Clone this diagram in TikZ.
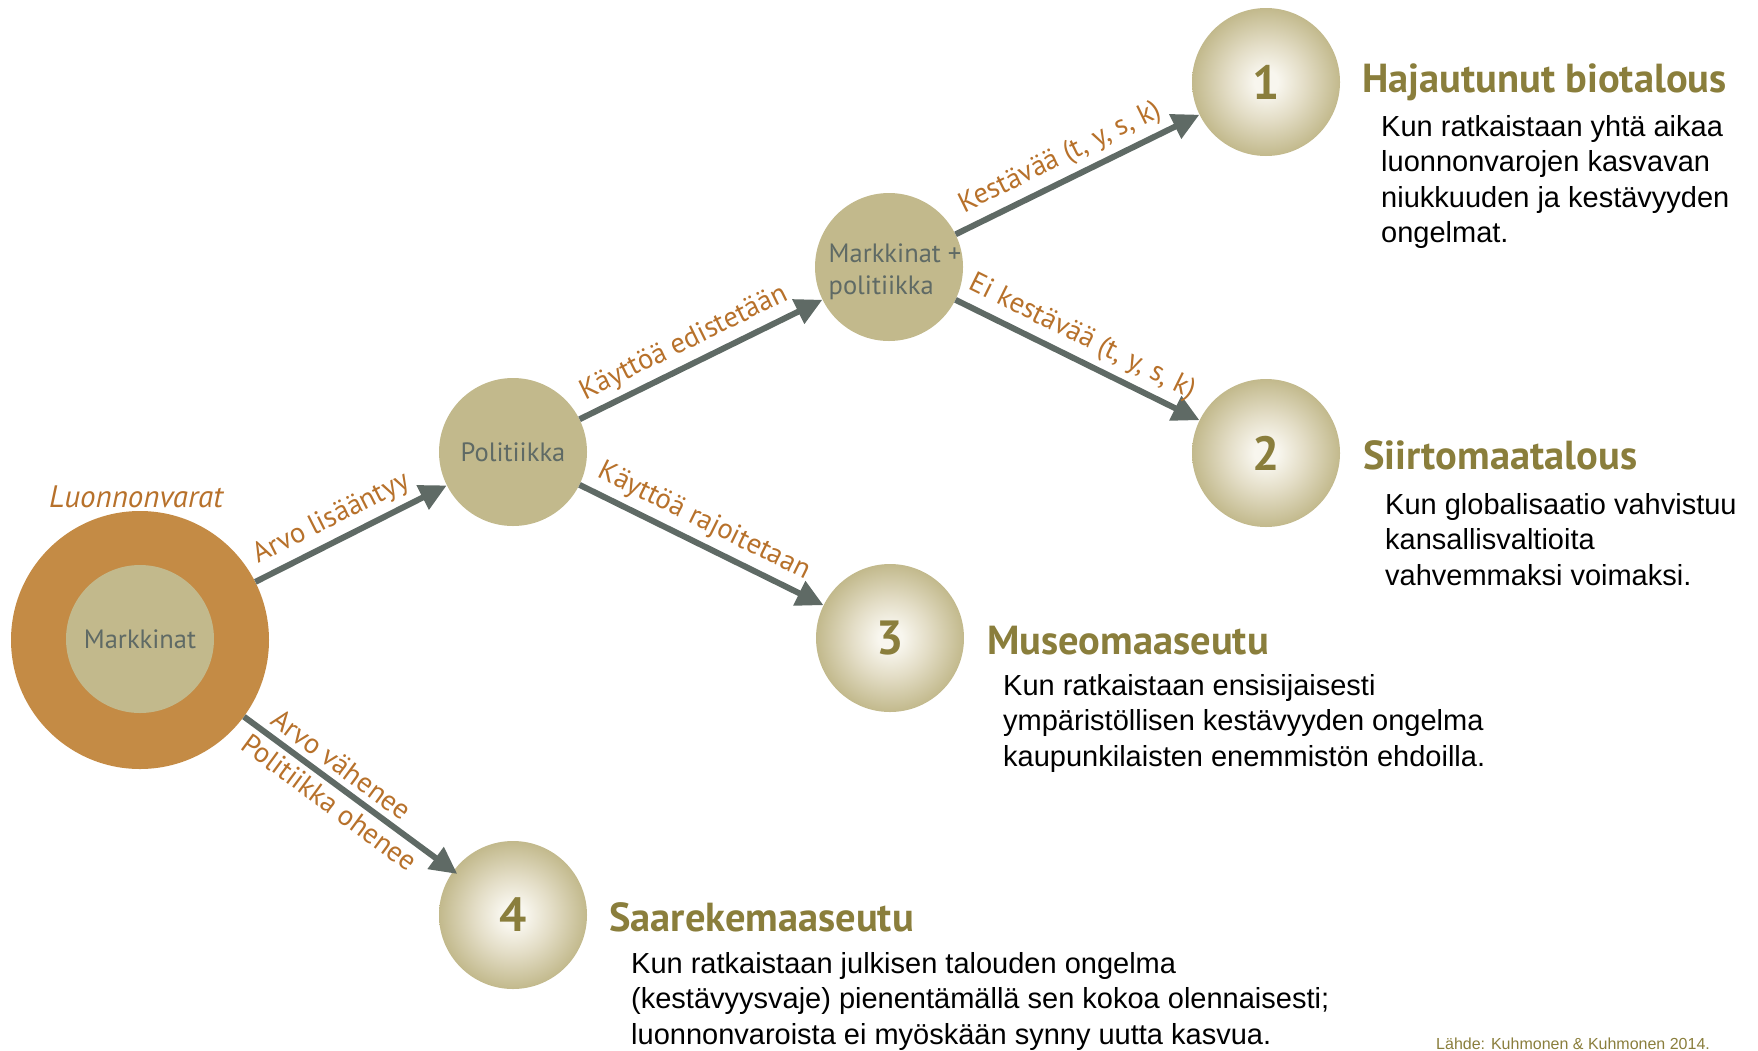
\documentclass[tikz,border=0pt]{standalone}
\usepackage{fontspec}
\setmainfont{Liberation Sans}
\newfontfamily\myr{PT Sans}
\usetikzlibrary{arrows.meta}
\definecolor{ring}{HTML}{C48B45}
\definecolor{khaki}{HTML}{C2B98C}
\definecolor{slate}{HTML}{5F6A65}
\definecolor{ochre}{HTML}{B7712B}
\definecolor{olive}{HTML}{8A7E3C}
\definecolor{ballc}{HTML}{F8F6EE}
\definecolor{ballm}{HTML}{E3DDC6}
\pgfdeclareradialshading{ball}{\pgfpoint{0bp}{0bp}}{color(0bp)=(ballc); color(4bp)=(ballc); color(13bp)=(ballm); color(25bp)=(khaki); color(50bp)=(khaki)}
\begin{document}
\begin{tikzpicture}[x=1pt,y=-1pt,
  plainc/.style={circle, fill=khaki, minimum size=148pt, inner sep=0pt,
    font=\myr\fontsize{26.5}{32.5}\selectfont, text=slate, align=left},
  ballc/.style={circle, shading=ball, minimum size=148pt, inner sep=0pt,
    font=\myr\bfseries\fontsize{48}{50}\selectfont, text=olive},
  arr/.style={draw=slate, line width=6pt, -{Triangle[length=27pt,width=26pt]}},
  lab/.style={sloped, font=\myr\fontsize{28.5}{32}\selectfont, text=ochre, inner sep=6pt},
  head/.style={anchor=base west, font=\myr\bfseries\fontsize{40.5}{44}\selectfont, text=olive, inner sep=0pt},
  desc/.style={anchor=base west, font=\fontsize{29}{35.5}\selectfont, text=black, align=left, inner sep=0pt}]
\useasboundingbox (0,0) rectangle (1758,1050);

% resource circle
\node[circle, fill=ring, minimum size=258pt, inner sep=0pt] (res) at (140,640) {};
\node[plainc] (mark) at (140,639) {Markkinat};
\node[font=\myr\itshape\fontsize{31}{34}\selectfont, text=ochre] (luon) at (136,497) {Luonnonvarat};

\node[plainc] (pol) at (513,452) {Politiikka};
\node[plainc] (mp) at (889,267) {};
\node[font=\myr\fontsize{26.5}{32.5}\selectfont, text=slate, align=left] (mptext) at ([xshift=6pt,yshift=-5pt]mp.center) {Markkinat +\\politiikka};

\node[ballc] (s1) at (1266,82) {1};
\node[ballc] (s2) at (1266,453) {2};
\node[ballc] (s3) at (890,638) {3};
\node[ballc] (s4) at (513,915) {4};

% arrows
\draw[arr] (res) -- node[lab, above, pos=0.45] {Arvo lisääntyy} (pol);
\draw[arr] (pol) -- node[lab, above, pos=0.47] {Käyttöä edistetään} (mp);
\draw[arr] (mp) -- node[lab, above, pos=0.47] {Kestävää (t, y, s, k)} (s1);
\draw[arr] (mp) -- node[lab, above, pos=0.48] {Ei kestävää (t, y, s, k)} (s2);
\draw[arr] (pol) -- node[lab, above, pos=0.47] {Käyttöä rajoitetaan} (s3);
\draw[arr, shorten >=-5pt] (res) -- node[lab, above, pos=0.41] {Arvo vähenee}
   node[lab, below, pos=0.46, inner sep=5pt] {Politiikka ohenee} (s4);

% headings and descriptions
\node[head] (h1) at (1362,92) {Hajautunut biotalous};
\node[desc] (d1) at (1381,242.5) {Kun ratkaistaan yhtä aikaa\\luonnonvarojen kasvavan\\niukkuuden ja kestävyyden\\ongelmat.};

\node[head] (h2) at (1363,469) {Siirtomaatalous};
\node[desc] (d2) at (1385,585) {Kun globalisaatio vahvistuu\\kansallisvaltioita\\vahvemmaksi voimaksi.};

\node[head] (h3) at (987,654) {Museomaaseutu};
\node[desc] (d3) at (1003,766) {Kun ratkaistaan ensisijaisesti\\ympäristöllisen kestävyyden ongelma\\kaupunkilaisten enemmistön ehdoilla.};

\node[head] (h4) at (609,931) {Saarekemaaseutu};
\node[desc] (d4) at (631,1044) {Kun ratkaistaan julkisen talouden ongelma\\(kestävyysvaje) pienentämällä sen kokoa olennaisesti;\\luonnonvaroista ei myöskään synny uutta kasvua.};

\node[anchor=base west, font=\fontsize{16}{18}\selectfont, text=olive, inner sep=0pt] (src) at (1436,1049) {Lähde: Kuhmonen \& Kuhmonen 2014.};
\end{tikzpicture}
\end{document}
